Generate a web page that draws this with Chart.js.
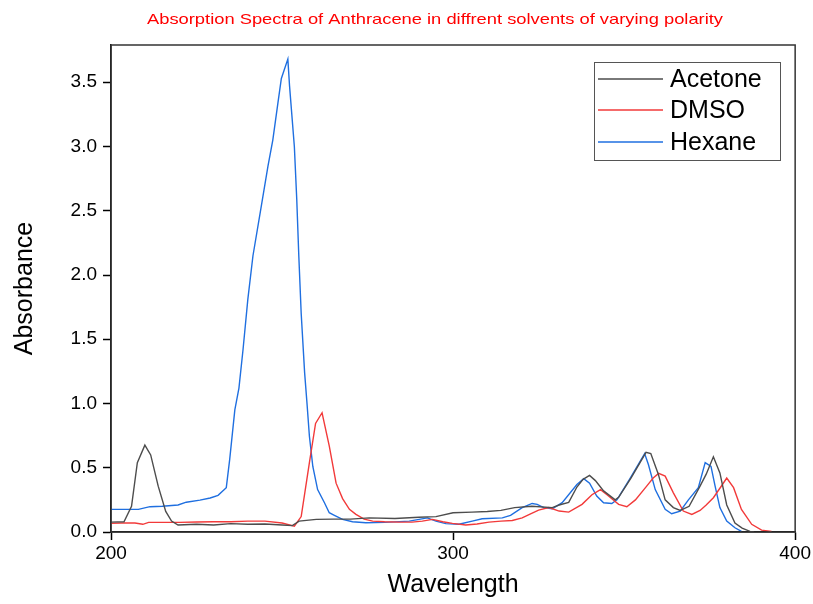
<!DOCTYPE html>
<html>
<head>
<meta charset="utf-8">
<script src="https://cdn.jsdelivr.net/npm/chart.js@4/dist/chart.umd.min.js"></script>
<style>
  html, body { margin: 0; padding: 0; background: #fff; }
  #wrap { width: 813px; height: 604px; }
</style>
</head>
<body>
<div id="wrap"><canvas id="specChart" width="813" height="604"></canvas></div>
<script>
// wavelength (nm) / absorbance
const acetoneWl  = [200, 203.8, 206, 207.7, 209.9, 211.6, 213.8, 216, 217.7, 219.6, 225, 230, 235, 240, 245, 250, 253, 255, 260, 265, 270, 275.5, 283, 290, 295, 300, 305.5, 310, 314, 318, 323, 329, 331, 333.8, 336.2, 338, 339.9, 341.6, 344, 347.4, 348.4, 352, 356.4, 357.8, 360, 362, 364.4, 366.4, 369, 372.2, 374, 376.1, 378, 380, 382.4, 384.5, 386.8, 388];
const acetoneAbs = [0.077, 0.08, 0.2, 0.54, 0.676, 0.6, 0.357, 0.16, 0.085, 0.054, 0.06, 0.055, 0.065, 0.06, 0.062, 0.055, 0.05, 0.085, 0.098, 0.1, 0.1, 0.11, 0.105, 0.115, 0.12, 0.15, 0.155, 0.16, 0.168, 0.19, 0.2, 0.19, 0.21, 0.23, 0.35, 0.41, 0.44, 0.4, 0.32, 0.25, 0.27, 0.42, 0.62, 0.61, 0.45, 0.25, 0.19, 0.168, 0.2, 0.357, 0.45, 0.585, 0.46, 0.21, 0.07, 0.03, 0.005, 0];

const dmsoWl  = [200, 203, 207, 209.3, 211, 215, 220, 225, 230, 235, 240, 245, 250, 253.6, 255.6, 258, 259.8, 261.7, 263.8, 265.8, 267.7, 269.7, 271.6, 274, 276.5, 280, 284.3, 288, 291, 294, 297, 299.8, 303.7, 307, 310.5, 314, 317.3, 320.2, 322.5, 325, 328, 331, 333.8, 337.7, 340.6, 343.1, 345, 348.4, 350.8, 353.3, 356.6, 358.5, 360.1, 362, 364.4, 367.3, 369.8, 372.2, 374, 376.1, 378.5, 380, 382, 384.3, 387.3, 390.2, 393.1];
const dmsoAbs = [0.067, 0.07, 0.07, 0.06, 0.075, 0.075, 0.075, 0.078, 0.08, 0.08, 0.085, 0.085, 0.07, 0.046, 0.12, 0.54, 0.845, 0.928, 0.67, 0.38, 0.26, 0.176, 0.137, 0.1, 0.085, 0.08, 0.077, 0.077, 0.085, 0.098, 0.08, 0.067, 0.054, 0.062, 0.077, 0.085, 0.09, 0.11, 0.14, 0.17, 0.19, 0.163, 0.155, 0.215, 0.29, 0.33, 0.29, 0.215, 0.197, 0.25, 0.357, 0.42, 0.456, 0.435, 0.305, 0.163, 0.137, 0.168, 0.21, 0.267, 0.36, 0.42, 0.345, 0.176, 0.06, 0.015, 0.005];

const hexaneWl  = [200, 204, 208, 211.4, 215, 219.6, 222, 226, 229, 231.3, 233.7, 234.7, 236.2, 237.4, 238.6, 240, 241.5, 243.9, 245.9, 247.3, 248.8, 249.8, 251.7, 252.2, 253.6, 254.3, 254.9, 255.6, 256.6, 257.3, 258, 259, 260.4, 262.4, 263.8, 265.3, 267.7, 270.6, 274.5, 280, 287.2, 292.5, 295, 297.9, 301.7, 305.6, 308.5, 314.4, 316.8, 320.2, 323.1, 324.6, 326.5, 329, 331.9, 336.2, 338.2, 339.9, 342, 344, 346.4, 347.9, 351.8, 356, 357.1, 359.1, 362, 363.9, 366.4, 368.8, 371.7, 373.7, 375.4, 376.6, 378, 380, 382.4, 384.3];
const hexaneAbs = [0.176, 0.176, 0.176, 0.197, 0.2, 0.21, 0.232, 0.248, 0.265, 0.285, 0.345, 0.565, 0.95, 1.12, 1.42, 1.81, 2.15, 2.53, 2.85, 3.05, 3.34, 3.53, 3.68, 3.47, 3.0, 2.59, 2.15, 1.7, 1.24, 1.0, 0.745, 0.51, 0.33, 0.228, 0.15, 0.13, 0.098, 0.08, 0.072, 0.075, 0.085, 0.11, 0.085, 0.065, 0.06, 0.085, 0.103, 0.11, 0.13, 0.19, 0.222, 0.215, 0.19, 0.18, 0.228, 0.37, 0.415, 0.38, 0.28, 0.228, 0.222, 0.25, 0.42, 0.61, 0.525, 0.33, 0.176, 0.142, 0.163, 0.25, 0.345, 0.54, 0.51, 0.357, 0.19, 0.085, 0.033, 0.005];

const seriesNames  = ['Acetone', 'DMSO', 'Hexane'];
const seriesColors = ['#4d4d4d', '#f23a3a', '#1f6fe0'];
const xTicks = [200, 300, 400];
const yTicks = [0, 0.5, 1, 1.5, 2, 2.5, 3, 3.5];

const FONT = 'Arial, "Liberation Sans", sans-serif';
const TITLE = 'Absorption Spectra of Anthracene in diffrent solvents of varying polarity';

const toPoints = (wl, ab) => wl.map((w, i) => ({ x: w, y: ab[i] }));

// frame round the plot + legend box + red title
const extras = {
  id: 'extras',
  afterDraw(chart) {
    const { ctx, chartArea: a } = chart;
    ctx.save();
    ctx.strokeStyle = '#333';
    ctx.lineWidth = 1.5;
    ctx.strokeRect(a.left, a.top, a.right - a.left, a.bottom - a.top);

    // title, stretched a little sideways like the original
    ctx.fillStyle = '#ff0000';
    ctx.font = '15px ' + FONT;
    ctx.textAlign = 'center';
    ctx.textBaseline = 'middle';
    const tw = ctx.measureText(TITLE).width;
    ctx.save();
    ctx.translate(435, 20);
    ctx.scale(576 / tw, 1);
    ctx.fillText(TITLE, 0, 0);
    ctx.restore();

    // legend
    ctx.fillStyle = '#fff';
    ctx.fillRect(594, 62, 186, 98);
    ctx.strokeStyle = '#555';
    ctx.lineWidth = 1;
    ctx.strokeRect(594.5, 62.5, 186, 98);
    ctx.font = '25px ' + FONT;
    ctx.textAlign = 'left';
    const rows = [79, 110, 142];
    seriesNames.forEach((name, i) => {
      ctx.strokeStyle = seriesColors[i];
      ctx.lineWidth = 1.3;
      ctx.beginPath();
      ctx.moveTo(598, rows[i]);
      ctx.lineTo(663, rows[i]);
      ctx.stroke();
      ctx.fillStyle = '#000';
      ctx.fillText(name, 670, rows[i] + 1);
    });
    ctx.restore();
  }
};

const ctx = document.getElementById('specChart').getContext('2d');
new Chart(ctx, {
  type: 'line',
  data: {
    datasets: [
      { label: seriesNames[0], data: toPoints(acetoneWl, acetoneAbs), borderColor: seriesColors[0] },
      { label: seriesNames[1], data: toPoints(dmsoWl, dmsoAbs), borderColor: seriesColors[1] },
      { label: seriesNames[2], data: toPoints(hexaneWl, hexaneAbs), borderColor: seriesColors[2] }
    ]
  },
  options: {
    responsive: false,
    animation: false,
    devicePixelRatio: 1,
    elements: {
      line: { borderWidth: 1.4, tension: 0 },
      point: { radius: 0 }
    },
    layout: { padding: { top: 45, right: 16, left: 0, bottom: 0 } },
    plugins: {
      legend: { display: false },
      title: { display: false },
      tooltip: { enabled: false }
    },
    scales: {
      x: {
        type: 'linear',
        min: 200,
        max: 400,
        afterBuildTicks: s => { s.ticks = xTicks.map(v => ({ value: v })); },
        afterFit: s => { s.height = 72; },
        grid: { drawOnChartArea: false, drawTicks: true, tickLength: 8, tickColor: '#000', tickWidth: 1.5 },
        border: { color: '#000', width: 1.5 },
        ticks: { color: '#000', font: { family: FONT, size: 19 }, padding: 2, maxRotation: 0 },
        title: { display: true, text: 'Wavelength', color: '#000', font: { family: FONT, size: 25 }, padding: { top: 0 } }
      },
      y: {
        type: 'linear',
        min: 0,
        max: 3.79,
        afterBuildTicks: s => { s.ticks = yTicks.map(v => ({ value: v })); },
        afterFit: s => { s.width = 111; },
        grid: { drawOnChartArea: false, drawTicks: true, tickLength: 8, tickColor: '#000', tickWidth: 1.5 },
        border: { color: '#000', width: 1.5 },
        ticks: { color: '#000', font: { family: FONT, size: 19 }, padding: 6, callback: v => v.toFixed(1) },
        title: { display: true, text: 'Absorbance', color: '#000', font: { family: FONT, size: 25 }, padding: { top: 10, bottom: 2 } }
      }
    }
  },
  plugins: [extras]
});
</script>
</body>
</html>
